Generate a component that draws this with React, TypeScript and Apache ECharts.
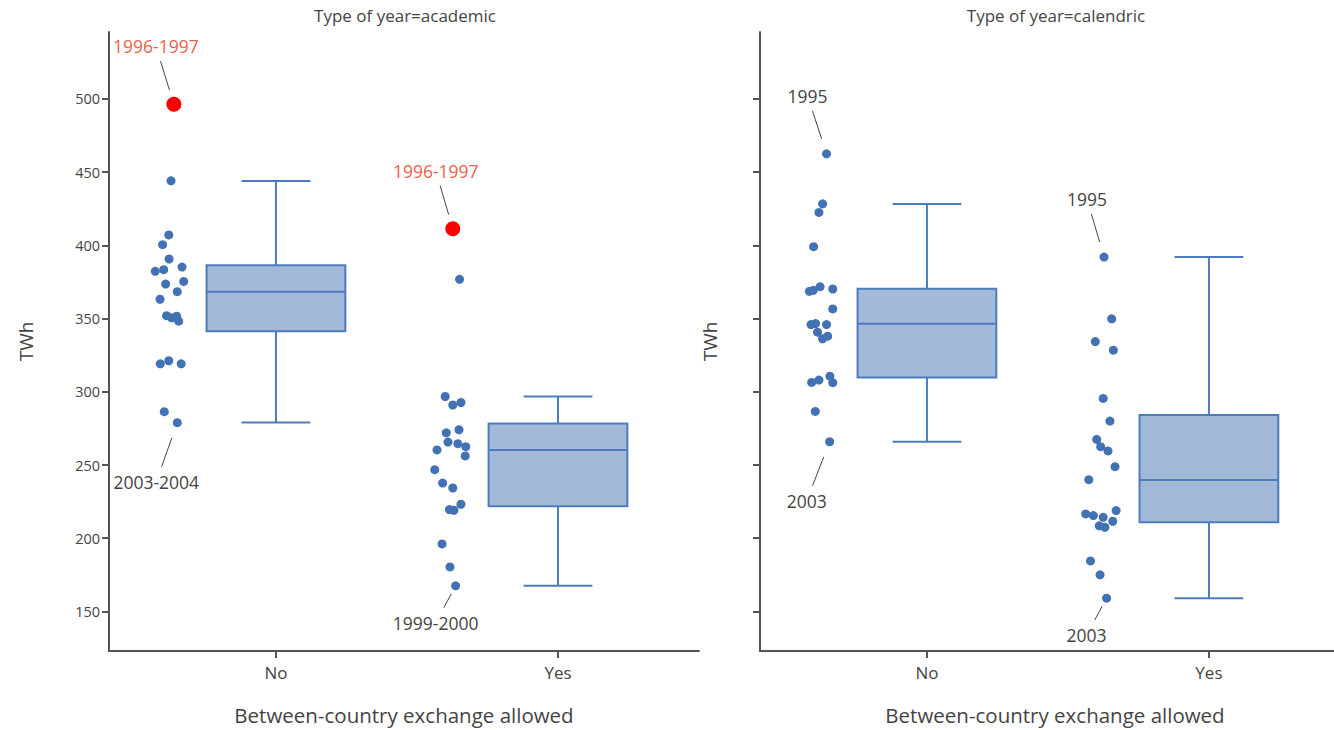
import React, { useEffect, useRef } from 'react';
import * as echarts from 'echarts';

const categories = ['No', 'Yes'];
const panelTitles = ['Type of year=academic', 'Type of year=calendric'];
const yTicks = [150, 200, 250, 300, 350, 400, 450, 500];
const xAxisTitle = 'Between-country exchange allowed';
const yAxisTitle = 'TWh';

// Academic, exchange = No
const acadNoValues = [496.4, 444.1, 407.1, 400.5, 390.7, 382.3, 383.4, 385.2, 375.4, 373.6, 368.4, 363.2, 352.0, 350.5, 351.6, 348.2, 319.1, 321.2, 319.1, 286.4, 278.9];
const acadNoJitter = [-0.362, -0.372, -0.380, -0.402, -0.379, -0.428, -0.398, -0.333, -0.327, -0.391, -0.350, -0.411, -0.388, -0.370, -0.352, -0.345, -0.410, -0.380, -0.336, -0.396, -0.350];
// Academic, exchange = Yes
const acadYesValues = [411.4, 376.8, 296.8, 291.0, 292.7, 272.0, 274.1, 265.7, 264.6, 262.5, 260.3, 256.2, 246.8, 237.7, 234.3, 223.2, 219.6, 219.1, 196.1, 180.4, 167.5];
const acadYesJitter = [-0.373, -0.349, -0.400, -0.373, -0.344, -0.396, -0.351, -0.390, -0.355, -0.327, -0.429, -0.329, -0.437, -0.409, -0.373, -0.344, -0.385, -0.369, -0.411, -0.383, -0.363];
// Calendric, exchange = No
const calNoValues = [462.5, 428.4, 422.5, 399.1, 368.6, 369.3, 371.8, 370.2, 356.6, 345.9, 346.6, 345.9, 340.7, 336.2, 338.0, 306.4, 308.0, 310.7, 306.2, 286.6, 265.9];
const calNoJitter = [-0.356, -0.370, -0.383, -0.402, -0.417, -0.403, -0.379, -0.334, -0.334, -0.411, -0.395, -0.356, -0.388, -0.370, -0.352, -0.409, -0.383, -0.344, -0.334, -0.396, -0.345];
// Calendric, exchange = Yes
const calYesValues = [392.0, 349.8, 334.3, 328.4, 295.5, 280.0, 267.5, 262.5, 259.6, 248.9, 240.0, 216.6, 215.5, 214.3, 218.9, 211.6, 208.5, 207.5, 184.5, 175.0, 159.1];
const calYesJitter = [-0.372, -0.345, -0.403, -0.339, -0.375, -0.351, -0.398, -0.384, -0.358, -0.333, -0.426, -0.437, -0.410, -0.375, -0.329, -0.341, -0.389, -0.369, -0.420, -0.386, -0.363];

// Box statistics [lower whisker, Q1, median, Q3, upper whisker]
const acadNoBox = [279.0, 341.4, 368.4, 386.4, 444.0];
const acadYesBox = [167.5, 221.8, 260.2, 278.4, 296.8];
const calNoBox = [265.9, 309.8, 346.4, 370.4, 428.3];
const calYesBox = [159.1, 210.9, 239.8, 284.1, 392.0];

// Highlighted points (index in each group's arrays)
const acadNoHighlight = [0];
const acadYesHighlight = [0];

// Annotations: which point, text
const annotationTexts = ['1996-1997', '2003-2004', '1996-1997', '1999-2000', '1995', '2003', '1995', '2003'];
const annotationPanel = [0, 0, 0, 0, 1, 1, 1, 1];
const annotationCat = [0, 0, 1, 1, 0, 0, 1, 1];
const annotationIdx = [0, 20, 0, 20, 0, 20, 0, 20];
const annotationRed = [true, false, true, false, false, false, false, false];

const FONT = "'Open Sans', sans-serif";
const BLUE = '#4271b4';
const BOX_STROKE = '#4d7cbd';
const BOX_FILL = '#a3b9d9';
const AXIS = '#555';
const TEXT = '#444';
const RED_TEXT = '#ef5f4a';

const Y_MIN = 123;
const Y_MAX = 545.7;
const X_MIN = -0.592;
const X_MAX = [1.5, 1.4435];
const BOX_HALF = 0.246;
const CAP_HALF = 0.122;

// annotation text offsets (px) and line standoffs
const annLayout = [
  { dx: -18, dy: -58, s0: 14, s1: 15 },
  { dx: -21, dy: 59, s0: 15, s1: 15 },
  { dx: -17, dy: -58, s0: 14, s1: 15 },
  { dx: -20, dy: 37, s0: 8, s1: 15 },
  { dx: -19, dy: -58, s0: 15, s1: 15 },
  { dx: -23, dy: 59, s0: 15, s1: 15 },
  { dx: -17, dy: -58, s0: 15, s1: 15 },
  { dx: -20, dy: 37, s0: 8, s1: 15 },
];

const groups = [
  [
    { values: acadNoValues, jitter: acadNoJitter, hl: acadNoHighlight },
    { values: acadYesValues, jitter: acadYesJitter, hl: acadYesHighlight },
  ],
  [
    { values: calNoValues, jitter: calNoJitter, hl: [] as number[] },
    { values: calYesValues, jitter: calYesJitter, hl: [] as number[] },
  ],
];
const boxes = [
  [acadNoBox, acadYesBox],
  [calNoBox, calYesBox],
];

export default function App() {
  const ref = useRef<HTMLDivElement>(null);
  useEffect(() => {
    document.body.style.margin = '0';
    if (!ref.current) return;
    const chart = echarts.init(ref.current, null, { renderer: 'svg' });

    const grids = [
      { left: 109, top: 32, width: 590, bottom: 78 },
      { left: 760, top: 32, right: 0, bottom: 78 },
    ];

    const xAxes = [0, 1].map((i) => ({
      type: 'value',
      gridIndex: i,
      min: X_MIN,
      max: X_MAX[i],
      axisLine: { show: true, onZero: false, lineStyle: { color: AXIS, width: 2 } },
      axisTick: { show: true, length: 7, customValues: [0, 1], lineStyle: { color: AXIS, width: 2 } },
      axisLabel: {
        show: true,
        customValues: [0, 1],
        formatter: (v: number) => categories[Math.round(v)] ?? '',
        color: TEXT,
        fontSize: 17,
        fontFamily: FONT,
        margin: 13,
      },
      splitLine: { show: false },
      name: xAxisTitle,
      nameLocation: 'middle',
      nameGap: 53,
      nameTextStyle: { fontSize: 20.5, color: TEXT, fontFamily: FONT, padding: i === 1 ? [0, 0, 0, 16] : 0 },
    }));

    const yAxes = [0, 1].map((i) => ({
      type: 'value',
      gridIndex: i,
      min: Y_MIN,
      max: Y_MAX,
      axisLine: { show: true, onZero: false, lineStyle: { color: AXIS, width: 2 } },
      axisTick: { show: true, length: 7, customValues: yTicks, lineStyle: { color: AXIS, width: 2 } },
      axisLabel: { show: i === 0, customValues: yTicks, color: TEXT, fontSize: 14.5, fontFamily: FONT, margin: 9 },
      splitLine: { show: false },
      name: yAxisTitle,
      nameLocation: 'middle',
      nameGap: i === 0 ? 74 : 41,
      nameTextStyle: { fontSize: 19, color: TEXT, fontFamily: FONT },
    }));

    const series: any[] = [];

    [0, 1].forEach((p) => {
      // boxes
      series.push({
        type: 'custom',
        xAxisIndex: p,
        yAxisIndex: p,
        z: 2,
        data: boxes[p].map((b, c) => [c, ...b]),
        encode: { x: 0, y: [1, 2, 3, 4, 5] },
        renderItem: (params: any, api: any) => {
          const x = api.value(0);
          const lo = api.value(1), q1 = api.value(2), md = api.value(3), q3 = api.value(4), hi = api.value(5);
          const tl = api.coord([x - BOX_HALF, q3]);
          const br = api.coord([x + BOX_HALF, q1]);
          const mL = api.coord([x - BOX_HALF, md]);
          const mR = api.coord([x + BOX_HALF, md]);
          const cHi = api.coord([x, hi]);
          const cLo = api.coord([x, lo]);
          const cQ3 = api.coord([x, q3]);
          const cQ1 = api.coord([x, q1]);
          const capL = api.coord([x - CAP_HALF, hi])[0];
          const capR = api.coord([x + CAP_HALF, hi])[0];
          const ls = { stroke: BOX_STROKE, lineWidth: 2 };
          return {
            type: 'group',
            children: [
              { type: 'line', shape: { x1: cHi[0], y1: cHi[1], x2: cQ3[0], y2: cQ3[1] }, style: ls },
              { type: 'line', shape: { x1: cQ1[0], y1: cQ1[1], x2: cLo[0], y2: cLo[1] }, style: ls },
              { type: 'line', shape: { x1: capL, y1: cHi[1], x2: capR, y2: cHi[1] }, style: ls },
              { type: 'line', shape: { x1: capL, y1: cLo[1], x2: capR, y2: cLo[1] }, style: ls },
              {
                type: 'rect',
                shape: { x: tl[0], y: tl[1], width: br[0] - tl[0], height: br[1] - tl[1] },
                style: { fill: BOX_FILL, stroke: BOX_STROKE, lineWidth: 2 },
              },
              { type: 'line', shape: { x1: mL[0], y1: mL[1], x2: mR[0], y2: mR[1] }, style: ls },
            ],
          };
        },
      });
      // points
      [0, 1].forEach((c) => {
        const g = groups[p][c];
        series.push({
          type: 'scatter',
          xAxisIndex: p,
          yAxisIndex: p,
          z: 3,
          symbolSize: 9,
          itemStyle: { color: BLUE, opacity: 1 },
          data: g.values.map((v, k) => {
            const item: any = { value: [c + g.jitter[k], v] };
            if (g.hl.includes(k)) {
              item.itemStyle = { color: '#ff0000' };
              item.symbolSize = 15;
            }
            return item;
          }),
        });
      });
      // annotations
      const annIds = annotationTexts.map((_, i) => i).filter((i) => annotationPanel[i] === p);
      series.push({
        type: 'custom',
        xAxisIndex: p,
        yAxisIndex: p,
        z: 4,
        clip: false,
        data: annIds.map((i) => {
          const g = groups[p][annotationCat[i]];
          const k = annotationIdx[i];
          return [annotationCat[i] + g.jitter[k], g.values[k], i];
        }),
        encode: { x: 0, y: 1 },
        renderItem: (params: any, api: any) => {
          const i = api.value(2);
          const P = api.coord([api.value(0), api.value(1)]);
          const L = annLayout[i];
          const T = [P[0] + L.dx, P[1] + L.dy];
          const ady = Math.abs(L.dy);
          const f0 = L.s0 / ady;
          const f1 = 1 - L.s1 / ady;
          return {
            type: 'group',
            children: [
              {
                type: 'line',
                shape: {
                  x1: P[0] + L.dx * f0,
                  y1: P[1] + L.dy * f0,
                  x2: P[0] + L.dx * f1,
                  y2: P[1] + L.dy * f1,
                },
                style: { stroke: '#444', lineWidth: 1 },
              },
              {
                type: 'text',
                x: T[0],
                y: T[1],
                style: {
                  text: annotationTexts[i],
                  fill: annotationRed[i] ? RED_TEXT : TEXT,
                  fontSize: 17.5,
                  fontFamily: FONT,
                  align: 'center',
                  verticalAlign: 'middle',
                  textAlign: 'center',
                  textVerticalAlign: 'middle',
                },
              },
            ],
          };
        },
      });
    });

    chart.setOption({
      animation: false,
      backgroundColor: '#fff',
      textStyle: { fontFamily: FONT },
      title: [
        { text: panelTitles[0], left: 405, top: 7, textAlign: 'center', padding: 0, textStyle: { fontSize: 17, fontWeight: 'normal', color: TEXT, fontFamily: FONT } },
        { text: panelTitles[1], left: 1056, top: 7, textAlign: 'center', padding: 0, textStyle: { fontSize: 17, fontWeight: 'normal', color: TEXT, fontFamily: FONT } },
      ],
      grid: grids,
      xAxis: xAxes,
      yAxis: yAxes,
      series,
    });
    return () => chart.dispose();
  }, []);
  return <div ref={ref} style={{ width: 1334, height: 730 }} />;
}
